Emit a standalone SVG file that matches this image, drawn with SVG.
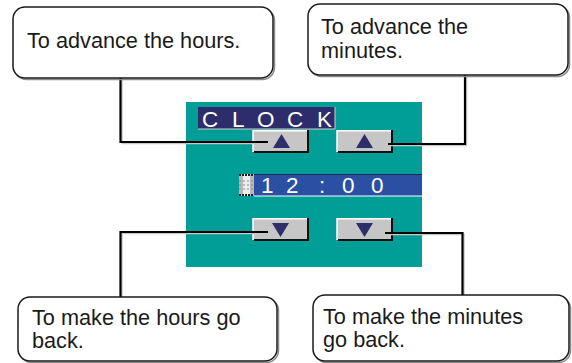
<svg xmlns="http://www.w3.org/2000/svg" width="572" height="363" viewBox="0 0 572 363">
<style>
.box{fill:#fff;stroke:#1a1a1a;stroke-width:1.5}
.boxsh{fill:none;stroke:#8a8a8a;stroke-width:1.5}
.lbl{font-family:"Liberation Sans",Arial,sans-serif;font-size:21.7px;fill:#1a1a1a}
.wt{font-family:"Liberation Sans",Arial,sans-serif;font-size:22.5px;fill:#fff}
.btn{fill:#c6c6c6}
.hi{fill:none;stroke:#fff;stroke-width:1.5}
.sh{fill:none;stroke:#111;stroke-width:2}
.tri{fill:#2e2e6a}
.conn{fill:none;stroke:#000;stroke-width:2.2}
.connsh{fill:none;stroke:#c8c8c8;stroke-width:1.5}
</style>
<rect width="572" height="363" fill="#fff"/>

<g id="panel">
  <rect x="186" y="102" width="236" height="165" fill="#009e97"/>
  <g id="clock-title">
    <rect x="198" y="107" width="137" height="22" fill="#2d2d6b"/>
    <path d="M335,107 V129 H198" fill="none" stroke="#d0d0d0" stroke-width="1"/>
    <text class="wt" x="202 218 232 245 257 273 287 303 317" y="127">C L O C K</text>
  </g>
  <g id="btn-hour-up">
    <rect class="btn" x="253" y="130" width="55" height="22"/>
    <path class="hi" d="M253,152 V130.7 H307"/>
    <path class="sh" d="M254,152 H308 V130"/>
    <polygon class="tri" points="273,148 290,148 281.5,134"/>
  </g>
  <g id="btn-min-up">
    <rect class="btn" x="337" y="130" width="55" height="22"/>
    <path class="hi" d="M337,152 V130.7 H391"/>
    <path class="sh" d="M338,152 H392 V130"/>
    <polygon class="tri" points="356,148 373,148 364.5,134"/>
  </g>
  <g id="time-display">
    <rect x="239" y="174" width="15" height="22" fill="#b8b8b8"/>
    <rect x="243" y="174" width="7" height="22" fill="#eeeeee"/>
    <path d="M239,175 H254 M239,195 H254" stroke="#222" stroke-width="2" stroke-dasharray="2,1"/>
    <path d="M239,181 H254 M239,185 H254 M239,189 H254" stroke="#888" stroke-width="1" stroke-dasharray="2,2"/>
    <rect x="254" y="174" width="168" height="22" fill="#2b4fa3"/>
    <path d="M254,174.5 H422" stroke="#1a2a50" stroke-width="1"/>
    <path d="M254,196 H422" stroke="#fff" stroke-width="1"/>
    <text class="wt" x="261 275 286 305 319 333 342 358 371" y="193">1 2 : 0 0</text>
  </g>
  <g id="btn-hour-down">
    <rect class="btn" x="253" y="218" width="55" height="22"/>
    <path class="hi" d="M253,240 V218.7 H307"/>
    <path class="sh" d="M254,240 H308 V218"/>
    <polygon class="tri" points="272,223 289,223 280.5,237"/>
  </g>
  <g id="btn-min-down">
    <rect class="btn" x="337" y="218" width="55" height="22"/>
    <path class="hi" d="M337,240 V218.7 H391"/>
    <path class="sh" d="M338,240 H392 V218"/>
    <polygon class="tri" points="356,223 373,223 364.5,237"/>
  </g>
</g>

<g id="connectors">
  <path class="connsh" d="M122,78 V143.5 H268"/>
  <path class="conn" d="M120.5,77 V142 H268"/>
  <path class="connsh" d="M388,145.5 H466.5 V76"/>
  <path class="conn" d="M388,144 H465 V75"/>
  <path class="connsh" d="M268,233.5 H122 V297"/>
  <path class="conn" d="M268,232 H120.5 V297"/>
  <path class="connsh" d="M385,234.5 H464 V295"/>
  <path class="conn" d="M385,233 H462.5 V295"/>
</g>

<g id="note-hour-up">
  <rect class="boxsh" x="14.5" y="8.5" width="260" height="71" rx="12"/>
  <rect class="box" x="13" y="7" width="260" height="71" rx="12"/>
  <text class="lbl" x="27" y="48">To advance the hours.</text>
</g>
<g id="note-min-up">
  <rect class="boxsh" x="309.5" y="5.5" width="260" height="71" rx="12"/>
  <rect class="box" x="308" y="4" width="260" height="71" rx="12"/>
  <text class="lbl" x="321" y="34">To advance the</text>
  <text class="lbl" x="321" y="58">minutes.</text>
</g>
<g id="note-hour-down">
  <rect class="boxsh" x="19.5" y="298.5" width="259" height="64" rx="12"/>
  <rect class="box" x="18" y="297" width="259" height="64" rx="12"/>
  <text class="lbl" x="32" y="325">To make the hours go</text>
  <text class="lbl" x="32" y="348">back.</text>
</g>
<g id="note-min-down">
  <rect class="boxsh" x="314.5" y="296.5" width="256" height="66" rx="12"/>
  <rect class="box" x="313" y="295" width="256" height="66" rx="12"/>
  <text class="lbl" x="323" y="324">To make the minutes</text>
  <text class="lbl" x="323" y="347">go back.</text>
</g>
</svg>
